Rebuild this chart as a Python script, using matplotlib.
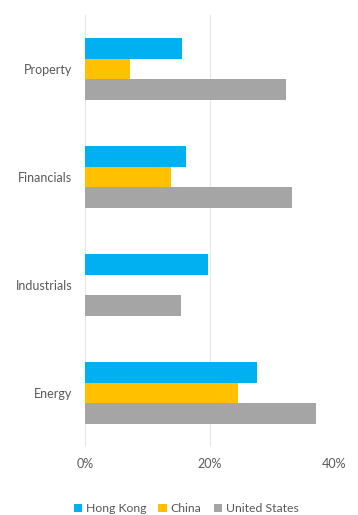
import matplotlib
matplotlib.use("Agg")
import matplotlib.pyplot as plt
import numpy as np

categories = ["Energy", "Industrials", "Financials", "Property"]
hong_kong = [27.6, 19.8, 16.2, 15.6]
china = [24.6, 0.0, 13.8, 7.2]
united_states = [37.1, 15.4, 33.3, 32.3]
series_names = ["Hong Kong", "China", "United States"]
colors = ["#00B0F0", "#FFC000", "#A5A5A5"]
xticks = [0, 20, 40]
xtick_labels = ["0%", "20%", "40%"]

plt.rcParams['font.family'] = ['Lato', 'DejaVu Sans']

fig = plt.figure(figsize=(3.58, 5.15), dpi=100)
ax = fig.add_axes([0.2374, 0.132, 0.6956, 0.839])

y = np.arange(len(categories))
h = 0.19
for vals, off, c, name in zip([hong_kong, china, united_states], [h, 0, -h], colors, series_names):
    ax.barh(y + off, vals, height=h, color=c, label=name, zorder=3)

ax.set_xlim(0, 40)
ax.set_ylim(-0.5, 3.5)
ax.set_xticks(xticks)
ax.set_xticklabels(xtick_labels)
ax.set_yticks(y)
ax.set_yticklabels(categories)
ax.grid(axis='x', color='#E6E6E6', linewidth=0.8, zorder=0)
for s in ax.spines.values():
    s.set_visible(False)
ax.tick_params(axis='both', length=0, labelsize=9, labelcolor='#595959')
ax.tick_params(axis='x', pad=8)
ax.tick_params(axis='y', pad=9)

leg = fig.legend(loc='lower center', bbox_to_anchor=(0.52, -0.02), ncol=3, frameon=False,
                 fontsize=8.8, handlelength=0.7, handleheight=0.7, handletextpad=0.3,
                 columnspacing=1.0, labelcolor='#595959')
fig.savefig("out.png", dpi=100)
